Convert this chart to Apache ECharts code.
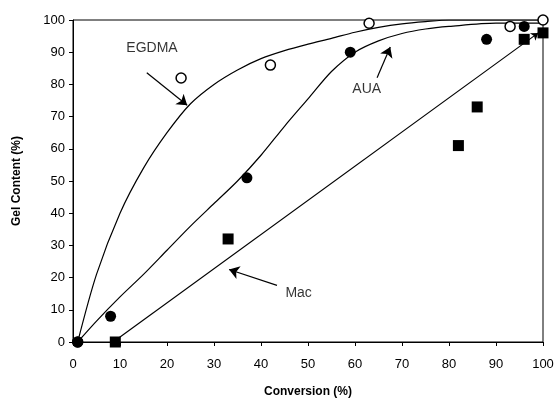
<!DOCTYPE html>
<html>
<head>
<meta charset="utf-8">
<script src="https://cdn.jsdelivr.net/npm/echarts@6/dist/echarts.min.js"></script>
<style>
  html, body { margin: 0; background: #fff; }
  #chart { width: 557px; height: 403px; }
</style>
</head>
<body>
<div id="chart"></div>
<script>
// measured points [conversion %, gel content %]
var egdmaPts = [[1, 0], [23, 82], [42, 86], [63, 99], [93, 98], [100, 100]]
var auaPts = [[1, 0], [8, 8], [37, 51], [59, 90], [88, 94], [96, 98]]
var macPts = [[9, 0], [33, 32], [82, 61], [86, 73], [96, 94], [100, 96]]

// fitted curves
var egdmaFit = [[1, 0], [5, 21], [10, 40], [15, 54], [20, 65], [25, 74], [30, 80], [35, 84.5], [40, 88], [45, 90.5], [50, 92.5], [55, 94.3], [60, 96.2], [65, 97.7], [70, 98.8], [75, 99.5], [80, 100], [90, 100], [100, 100]]
var auaFit = [[1, 0], [5, 6.5], [10, 14], [15, 21], [20, 28.5], [25, 36], [30, 43], [35, 50], [40, 58], [45, 67], [50, 75.5], [55, 84], [60, 90], [65, 93.5], [70, 95.8], [75, 97.2], [80, 98], [90, 99], [100, 99]]
var macFit = [[9.5, 1], [99, 96]]

// annotations
var noteText = ['EGDMA', 'AUA', 'Mac']
var notePos = [[16.8, 91.4], [62.5, 78.4], [48, 15.1]]
var arrowFrom = [[15.7, 83.6], [64.7, 82.1], [43.4, 17.6]]
var arrowTo = [[24.3, 73.5], [67.5, 91.6], [33.2, 22.5]]

var chart = echarts.init(document.getElementById('chart'))

var fontFam = '"Liberation Sans", Arial, sans-serif'
var axisCommon = {
  type: 'value',
  min: 0,
  max: 100,
  interval: 10,
  nameLocation: 'middle',
  nameTextStyle: { fontFamily: fontFam, fontWeight: 'bold', fontSize: 12, color: '#000' },
  axisLine: { show: true, lineStyle: { color: '#000', width: 1 } },
  axisTick: { show: true, length: 4, lineStyle: { color: '#000' } },
  splitLine: { show: false },
  axisLabel: { fontFamily: fontFam, fontSize: 13, color: '#000' }
}

var lineStyle = { color: '#000', width: 1.2 }

chart.setOption({
  animation: false,
  grid: { left: 73, right: 14, top: 20, bottom: 59, show: true, borderColor: '#000', borderWidth: 1 },
  xAxis: Object.assign({}, axisCommon, {
    name: 'Conversion (%)',
    nameGap: 44,
    axisLabel: Object.assign({}, axisCommon.axisLabel, { margin: 16 })
  }),
  yAxis: Object.assign({}, axisCommon, {
    name: 'Gel Content (%)',
    nameGap: 50,
    axisLabel: Object.assign({}, axisCommon.axisLabel, { margin: 8 })
  }),
  series: [
    {
      name: 'EGDMA fit',
      type: 'line',
      data: egdmaFit,
      smooth: 0.3,
      showSymbol: false,
      lineStyle: lineStyle
    },
    {
      name: 'AUA fit',
      type: 'line',
      data: auaFit,
      smooth: 0.3,
      showSymbol: false,
      lineStyle: lineStyle
    },
    {
      name: 'Mac fit',
      type: 'lines',
      coordinateSystem: 'cartesian2d',
      symbol: ['none', 'arrow'],
      symbolSize: [4, 7],
      lineStyle: { color: '#000', width: 1.2, opacity: 1 },
      data: [{ coords: macFit }]
    },
    {
      name: 'arrows',
      type: 'lines',
      coordinateSystem: 'cartesian2d',
      symbol: ['none', 'arrow'],
      symbolSize: [4, 10],
      lineStyle: { color: '#000', width: 1.2, opacity: 1 },
      data: arrowFrom.map(function (p, i) { return { coords: [p, arrowTo[i]] } })
    },
    {
      name: 'EGDMA',
      type: 'scatter',
      data: egdmaPts,
      symbol: 'circle',
      symbolSize: 10,
      itemStyle: { color: '#fff', borderColor: '#000', borderWidth: 1.5, opacity: 1 },
      z: 5
    },
    {
      name: 'AUA',
      type: 'scatter',
      data: auaPts,
      symbol: 'circle',
      symbolSize: 11,
      itemStyle: { color: '#000', opacity: 1 },
      z: 6
    },
    {
      name: 'Mac',
      type: 'scatter',
      data: macPts,
      symbol: 'rect',
      symbolSize: 11,
      itemStyle: { color: '#000', opacity: 1 },
      z: 6
    },
    {
      name: 'notes',
      type: 'scatter',
      symbolSize: 0,
      data: notePos.map(function (p, i) { return { value: p, name: noteText[i] } }),
      label: {
        show: true,
        position: 'inside',
        formatter: '{b}',
        fontFamily: fontFam,
        fontSize: 14,
        color: '#000'
      },
      z: 7
    }
  ]
})
</script>
</body>
</html>
